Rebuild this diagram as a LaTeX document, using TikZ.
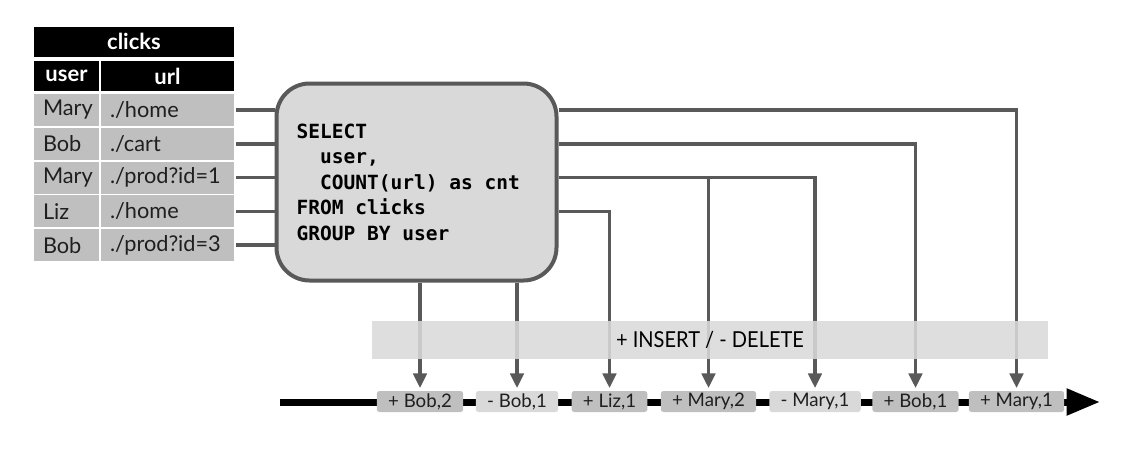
\documentclass[tikz,border=0pt]{standalone}
\usepackage{fontspec}
\setmainfont{Lato}
\newfontfamily\sqlfont{DejaVu Sans Mono}
\newfontfamily\bandfont{Lato}[FakeStretch=0.91]
\usetikzlibrary{arrows.meta,positioning}
\newcommand{\sqlind}{\hspace*{1.204em}}
\newcommand{\sqlsp}{\hspace{0.602em}}
\begin{document}
\begin{tikzpicture}[x=0.75pt,y=-0.75pt,
    head/.style={fill=black,text=white,font=\bfseries\fontsize{16.5}{16.5}\selectfont,minimum height=22.5pt,inner sep=0pt},
    cell/.style={fill=cellgray,text=textgray,minimum height=24pt,inner xsep=6.75pt,inner ysep=0pt,align=left,font=\fontsize{16.3}{16.3}\selectfont},
    usercell/.style={cell,text width=35.25pt},
    urlcell/.style={cell,text width=86.25pt},
    sqlbox/.style={draw=wiregray,line width=3pt,fill=boxgray,rounded corners=24.75pt,minimum height=147.75pt,text width=180pt,inner xsep=15pt,align=left,font=\sqlfont\bfseries\fontsize{14.65}{19.1}\selectfont},
    wire/.style={wiregray,line width=2.6pt},
    flow/.style={wire,-{Triangle[width=10pt,length=11pt]},shorten >=2pt},
    chip/.style={rounded corners=2pt,minimum height=15.75pt,inner xsep=8.5pt,inner ysep=0pt,text=textgray,font=\fontsize{14}{14}\selectfont},
    ins/.style={chip,fill=cellgray},
    del/.style={chip,fill=boxgray},
    band/.style={fill=boxgray,fill opacity=0.88,text opacity=1,text=black,minimum width=507pt,minimum height=28.5pt,font=\bandfont\fontsize{16.5}{16.5}\selectfont},
    timeline/.style={line width=5.25pt,-{Triangle[length=25pt,width=19pt]}}
  ]
  %colores
  \definecolor{wiregray}{HTML}{595959}
  \definecolor{cellgray}{HTML}{BFBFBF}
  \definecolor{boxgray}{HTML}{D9D9D9}
  \definecolor{textgray}{HTML}{1F1F1F}
  \useasboundingbox (0,0) rectangle (1143,458);

  % Tabla clicks
  \node[head,minimum width=150pt] (clicks) at (134,41.5) {clicks};
  \node[head,minimum width=48.75pt] (userhead) at (66.5,76) {user};
  \node[head,minimum width=99.75pt] (urlhead) at (167.5,76) {url};

  % Consulta
  \node[sqlbox] (sql) at (416.5,182) {SELECT\\\sqlind user,\\\sqlind COUNT(url)\sqlsp as\sqlsp cnt\\FROM\sqlsp clicks\\GROUP\sqlsp BY\sqlsp user};

  % Filas y entradas
  \foreach \i/\who/\page in {1/Mary/{./home},2/Bob/{./cart},3/Mary/{./prod?id=1},4/Liz/{./home},5/Bob/{./prod?id=3}}{
    \node[usercell] (user\i) at (66.5,{76.2+33.8*\i}) {\who};
    \node[urlcell] (url\i) at (167.5,{76.2+33.8*\i}) {\page};
    \draw[wire,shorten <=1.5pt] (url\i.east) -- (url\i.east -| sql.west);
  }

  % Eje de tiempo
  \coordinate (t0) at (280,402);
  \coordinate (t1) at (1100,402);
  \draw[timeline] (t0) -- (t1);

  % Resultados
  \foreach \i/\x/\sty/\txt in {1/420/ins/{+ Bob,2},2/517/del/{- Bob,1},3/609.5/ins/{+ Liz,1},4/708.5/ins/{+ Mary,2},5/815/del/{- Mary,1},6/915.5/ins/{+ Bob,1},7/1016.5/ins/{+ Mary,1}}
    \node[\sty] (c\i) at (\x,401.5) {\txt};

  % Flechas de salida
  \draw[flow] (url1 -| sql.east) -| (c7);
  \draw[flow] (url2 -| sql.east) -| (c6);
  \draw[flow] (url3 -| sql.east) -| (c4);
  \draw[flow] (url3 -| c4) -| (c5);
  \draw[flow] (url4 -| sql.east) -| (c3);
  \draw[flow] (sql.south -| c1) -- (c1);
  \draw[flow] (sql.south -| c2) -- (c2);

  % Banda
  \node[band] (op) at (710,340) {+ INSERT / - DELETE};
\end{tikzpicture}
\end{document}
